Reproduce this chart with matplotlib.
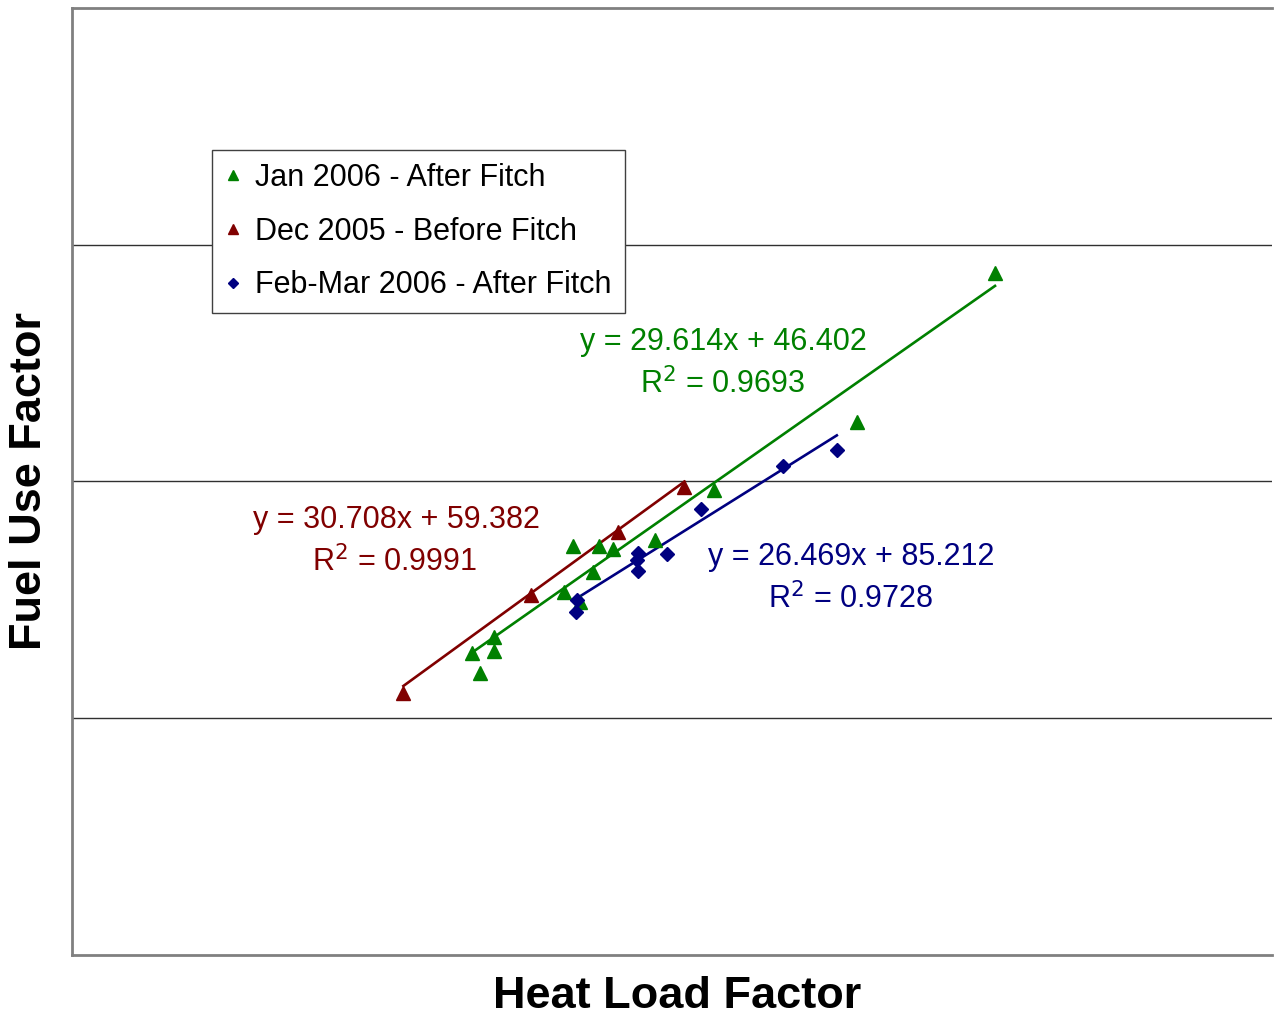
import matplotlib
matplotlib.use("Agg")
import matplotlib.pyplot as plt
import numpy as np

plt.rcParams['font.family'] = ['Liberation Sans', 'DejaVu Sans']

# ---- data ----
jan_x = [19.99, 20.40, 21.12, 21.12, 24.62, 25.40, 26.04, 25.07, 26.35, 27.07, 29.15, 32.12, 39.27, 46.15]
jan_y = [637.2, 595.0, 672.2, 642.7, 767.3, 746.2, 809.5, 863.8, 863.8, 857.5, 876.5, 982.1, 1126.3, 1441.0]

dec_x = [16.57, 22.94, 27.32, 30.62]
dec_y = [553.3, 760.3, 894.0, 989.1]

feb_x = [25.24, 25.20, 28.32, 28.24, 28.32, 29.74, 31.44, 35.54, 38.24]
feb_y = [749.8, 725.1, 848.4, 834.2, 811.6, 846.3, 941.3, 1032.8, 1066.6]

series_names = ["Jan 2006 - After Fitch", "Dec 2005 - Before Fitch", "Feb-Mar 2006 - After Fitch"]
trend_slopes = [29.614, 30.708, 26.469]
trend_intercepts = [46.402, 59.382, 85.212]
trend_r2 = ["0.9693", "0.9991", "0.9728"]

colors = ['#008000', '#800000', '#000080']
markers = ['^', '^', 'D']
msizes = [10, 10, 7.5]

fig = plt.figure(figsize=(12.75, 10.18), dpi=100)
ax = fig.add_axes([72/1275, 63/1018, 1200/1275, 947/1018])

xs = [jan_x, dec_x, feb_x]
ys = [jan_y, dec_y, feb_y]

ax.set_xlim(0, 60)
ax.set_ylim(0, 2000)
ax.set_yticks([500, 1000, 1500])
ax.set_xticks([])
ax.tick_params(axis='y', length=0, labelleft=False)
ax.grid(axis='y', color='#303030', linewidth=1.0)
ax.set_axisbelow(True)

handles = []
for x, y, c, m, ms, name, k, b in zip(xs, ys, colors, markers, msizes, series_names, trend_slopes, trend_intercepts):
    h, = ax.plot(x, y, linestyle='none', marker=m, color=c, markersize=ms, label=name, zorder=3)
    handles.append(h)
    xx = np.array([min(x), max(x)])
    ax.plot(xx, k * xx + b, color=c, linewidth=1.9, zorder=2)

for sp in ['right']:
    ax.spines[sp].set_visible(False)
for sp in ['left', 'top', 'bottom']:
    ax.spines[sp].set_color('#808080')
    ax.spines[sp].set_linewidth(2.0)

# equation labels
eq_pos = [((723, 342), (723, 384)), ((396, 520), (395, 562)), ((851, 557), (851, 599))]
for (p1, p2), c, k, b, r2 in zip(eq_pos, colors, trend_slopes, trend_intercepts, trend_r2):
    fig.text(p1[0]/1275, 1 - p1[1]/1018, f"y = {k:.3f}x + {b:.3f}", color=c,
             fontsize=22, ha='center', va='center')
    fig.text(p2[0]/1275, 1 - p2[1]/1018, f"R$^2$ = {r2}", color=c,
             fontsize=22, ha='center', va='center')

leg = fig.legend(handles=handles, loc='upper left',
                 bbox_to_anchor=(212/1275, 1 - 150/1018), fontsize=22,
                 markerscale=0.65, frameon=True, fancybox=False, framealpha=1,
                 edgecolor='#404040', borderpad=0.42, labelspacing=0.78,
                 handlelength=0.55, handletextpad=0.45, borderaxespad=0)
leg.get_frame().set_linewidth(1.0)

fig.text(677/1275, 1 - 996/1018, "Heat Load Factor", fontsize=32.5, fontweight='bold',
         ha='center', va='center')
fig.text(30/1275, 1 - 481/1018, "Fuel Use Factor", fontsize=32.5, fontweight='bold',
         ha='center', va='center', rotation=90)

fig.savefig("out.png", dpi=100, facecolor='white')
